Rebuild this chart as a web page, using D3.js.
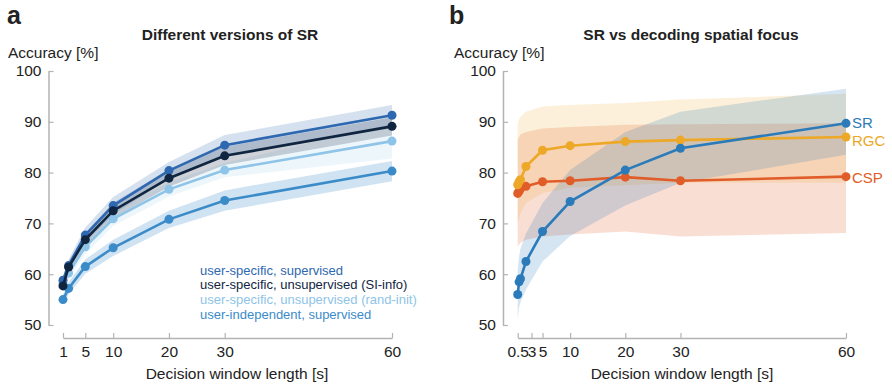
<!DOCTYPE html>
<html>
<head>
<meta charset="utf-8">
<script src="https://cdn.jsdelivr.net/npm/d3@7"></script>
<style>
  body { margin: 0; background: #fff; }
  svg { font-family: "Liberation Sans", Arial, Helvetica, sans-serif; }
</style>
</head>
<body>
<svg id="chart" width="892" height="385"></svg>
<script>
// panel a: different versions of SR
const winA = [1, 2, 5, 10, 20, 30, 60];
const supMean = [58.8, 61.7, 67.7, 73.5, 80.4, 85.4, 91.3];
const supSd = [1.0, 1.2, 1.5, 1.7, 1.7, 2.0, 2.0];
const siMean = [57.7, 61.4, 66.8, 72.5, 78.9, 83.3, 89.1];
const siSd = [1.0, 1.1, 1.3, 1.5, 1.7, 1.8, 1.8];
const randMean = [58.2, 60.2, 65.4, 70.9, 76.7, 80.5, 86.2];
const randSd = [1.0, 1.2, 1.4, 1.4, 1.4, 1.4, 3.4];
const indepMean = [55.0, 57.2, 61.5, 65.2, 70.8, 74.5, 80.3];
const indepSd = [1.0, 1.2, 1.4, 1.6, 1.7, 2.0, 2.0];
const legendA = [
  "user-specific, supervised",
  "user-specific, unsupervised (SI-info)",
  "user-specific, unsupervised (rand-init)",
  "user-independent, supervised"
];
const ticksA = [1, 5, 10, 20, 30, 60];

// panel b: SR vs decoding spatial focus
const winB = [0.5, 0.75, 1, 2, 5, 10, 20, 30, 60];
const srMean = [56.0, 58.5, 59.1, 62.5, 68.4, 74.3, 80.5, 84.8, 89.7];
const srLo = [51, 53.5, 54.5, 57, 62.5, 67.5, 73.5, 78, 83.5];
const srHi = [61, 63.5, 65, 68, 74, 80.5, 88, 92, 96.5];
const rgcMean = [77.6, 78.2, 78.6, 81.2, 84.4, 85.3, 86.1, 86.4, 87.0];
const rgcLo = [70, 71, 72, 74, 76, 77, 77.5, 78, 78];
const rgcHi = [89.5, 90.5, 91, 92, 93, 93.3, 93.7, 94.4, 95.5];
const cspMean = [75.9, 76.3, 76.8, 77.3, 78.2, 78.4, 79.1, 78.4, 79.2];
const cspLo = [65.4, 65.8, 66.2, 66.8, 67.4, 67.8, 68.4, 67.4, 68.1];
const cspHi = [86.5, 87, 87.5, 88, 88.7, 89, 89.4, 89.5, 89.7];
const namesB = ["SR", "RGC", "CSP"];
const ticksB = [0.5, 3, 5, 10, 20, 30, 60];

const yTicks = [50, 60, 70, 80, 90, 100];
const txt = "#222";
const axisCol = "#b3b3b3";

const svg = d3.select("#chart");

const y = d3.scaleLinear().domain([50, 100]).range([325, 71]);
const xA = d3.scaleLinear().domain([1, 60]).range([63, 392]);
const xB = d3.scaleLinear().domain([0.5, 60]).range([517.7, 846]);

function drawAxes(x, xTicks, yAxisX, fmt) {
  const gy = svg.append("g")
    .attr("transform", `translate(${yAxisX},0)`)
    .call(d3.axisLeft(y).tickValues(yTicks).tickSizeInner(-5).tickSizeOuter(0).tickPadding(7));
  const gx = svg.append("g")
    .attr("transform", "translate(0,338)")
    .call(d3.axisBottom(x).tickValues(xTicks).tickFormat(fmt).tickSizeInner(-5).tickSizeOuter(0).tickPadding(8));
  [gx, gy].forEach(g => {
    g.select(".domain").attr("stroke", axisCol).attr("stroke-width", 1.5);
    g.selectAll(".tick line").attr("stroke", axisCol).attr("stroke-width", 1.2);
    g.selectAll(".tick text").attr("fill", txt).style("font-size", "15.5px")
      .style("font-family", '"Liberation Sans", Arial, sans-serif');
  });
}

function band(x, xs, lo, hi, color, op) {
  const area = d3.area()
    .x((d, i) => x(xs[i]))
    .y0((d, i) => y(lo[i]))
    .y1((d, i) => y(hi[i]));
  svg.append("path")
    .attr("d", area(xs))
    .attr("fill", color)
    .attr("fill-opacity", op)
    .attr("stroke", "none");
}

function series(x, xs, vals, color) {
  const line = d3.line().x((d, i) => x(xs[i])).y(d => y(d));
  svg.append("path")
    .attr("d", line(vals))
    .attr("fill", "none")
    .attr("stroke", color)
    .attr("stroke-width", 2.6);
  svg.append("g").selectAll("circle")
    .data(vals)
    .join("circle")
    .attr("cx", (d, i) => x(xs[i]))
    .attr("cy", d => y(d))
    .attr("r", 4.5)
    .attr("fill", color);
}

// ---------- panel a ----------
const colA = ["#2e68b0", "#10253f", "#8ec4e8", "#3b8bc9"];
const opA = [0.2, 0.2, 0.16, 0.24];
const meansA = [supMean, siMean, randMean, indepMean];
const sdsA = [supSd, siSd, randSd, indepSd];

drawAxes(xA, ticksA, 48.5, d3.format("d"));

[3, 2, 0, 1].forEach(k => {
  band(xA, winA,
    meansA[k].map((m, i) => m - sdsA[k][i]),
    meansA[k].map((m, i) => m + sdsA[k][i]),
    colA[k], opA[k]);
});
[3, 2, 0, 1].forEach(k => series(xA, winA, meansA[k], colA[k]));

svg.append("g").selectAll("text")
  .data(legendA)
  .join("text")
  .attr("x", 200)
  .attr("y", (d, i) => 274.5 + i * 14.7)
  .attr("fill", (d, i) => colA[i])
  .style("font-size", "13px")
  .text(d => d);

// ---------- panel b ----------
const colB = ["#2b7bba", "#eca826", "#e05c28"];
const meansB = [srMean, rgcMean, cspMean];
const nudgeB = [-1, 4, 1.5];

drawAxes(xB, ticksB, 503, d => String(d));

band(xB, winB, cspLo, cspHi, colB[2], 0.2);
band(xB, winB, rgcLo, rgcHi, colB[1], 0.17);
band(xB, winB, srLo, srHi, colB[0], 0.2);

series(xB, winB, cspMean, colB[2]);
series(xB, winB, rgcMean, colB[1]);
series(xB, winB, srMean, colB[0]);

svg.append("g").selectAll("text")
  .data(namesB)
  .join("text")
  .attr("x", 852)
  .attr("y", (d, i) => y(meansB[i][meansB[i].length - 1]) + nudgeB[i])
  .attr("dy", "0.35em")
  .attr("fill", (d, i) => colB[i])
  .style("font-size", "15px")
  .text(d => d);

// ---------- titles and labels ----------
function label(x, yy, t, size, weight, anchor) {
  svg.append("text")
    .attr("x", x).attr("y", yy)
    .attr("fill", txt)
    .attr("text-anchor", anchor || "start")
    .style("font-size", size + "px")
    .style("font-weight", weight || "normal")
    .text(t);
}

label(7, 24, "a", 25, "bold");
label(449, 24, "b", 25, "bold");
label(230, 40, "Different versions of SR", 15.5, "bold", "middle");
label(691, 40, "SR vs decoding spatial focus", 15.5, "bold", "middle");
label(8, 58, "Accuracy [%]", 15.5);
label(454, 58, "Accuracy [%]", 15.5);
label(237, 379, "Decision window length [s]", 15.5, "normal", "middle");
label(682, 379, "Decision window length [s]", 15.5, "normal", "middle");
</script>
</body>
</html>
